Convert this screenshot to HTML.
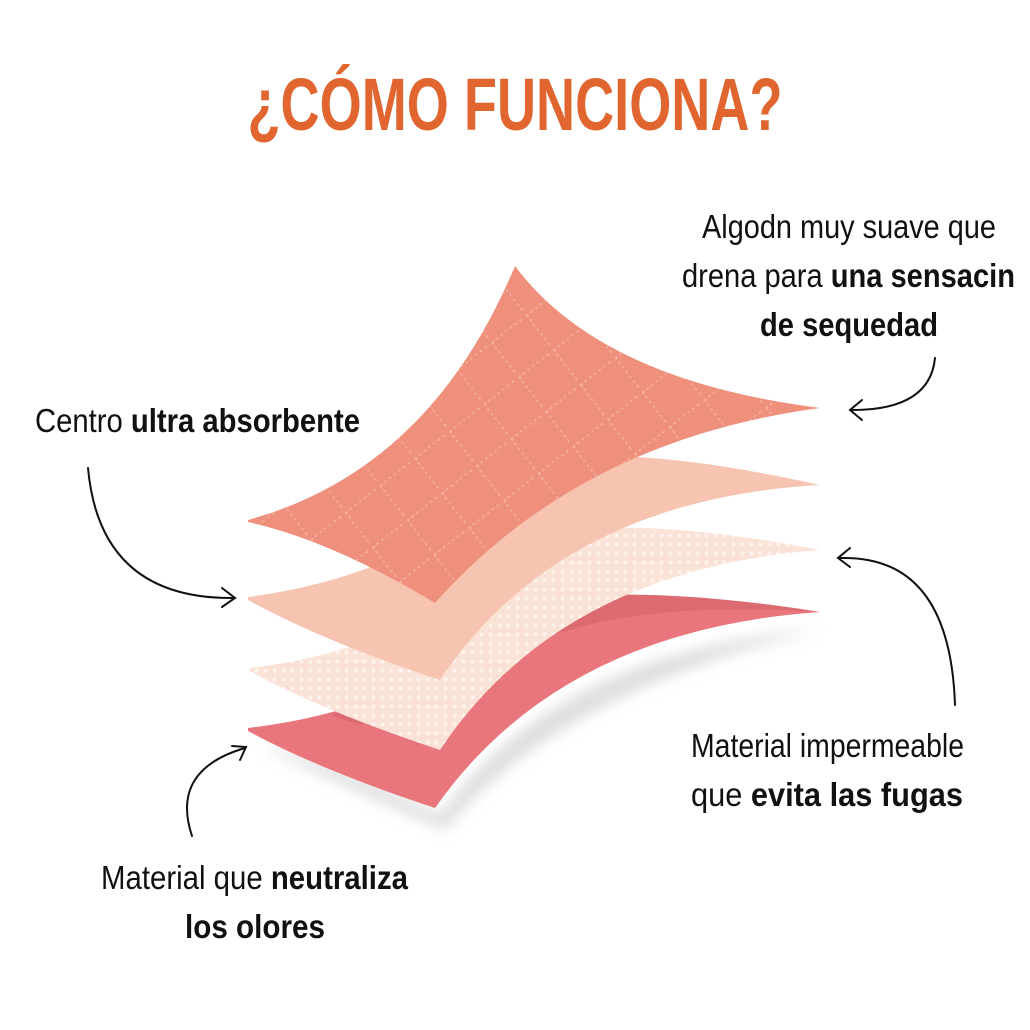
<!DOCTYPE html>
<html><head><meta charset="utf-8"><style>
html,body{margin:0;padding:0;background:#fff;}
svg{display:block}
text{font-family:"Liberation Sans Narrow","Liberation Sans",sans-serif;}
</style></head><body>
<svg width="1030" height="1030" viewBox="0 0 1030 1030" xmlns="http://www.w3.org/2000/svg">
<defs>
<pattern id="grid" width="44" height="44" patternUnits="userSpaceOnUse" patternTransform="rotate(-38)">
<g fill="#f6b8a8">
<circle cx="0" cy="0" r="3.2"/><circle cx="7" cy="0" r="1.8"/><circle cx="13" cy="0" r="1.6"/><circle cx="19" cy="0" r="1.5"/><circle cx="25" cy="0" r="1.5"/><circle cx="31" cy="0" r="1.6"/><circle cx="37" cy="0" r="1.8"/>
<circle cx="0" cy="7" r="1.8"/><circle cx="0" cy="13" r="1.6"/><circle cx="0" cy="19" r="1.5"/><circle cx="0" cy="25" r="1.5"/><circle cx="0" cy="31" r="1.6"/><circle cx="0" cy="37" r="1.8"/>
</g></pattern>
<pattern id="dots" width="9" height="9" patternUnits="userSpaceOnUse"><circle cx="4.5" cy="4.5" r="2" fill="#fff"/></pattern>
<filter id="sh" x="-20%" y="-20%" width="140%" height="140%"><feGaussianBlur stdDeviation="7"/></filter>
</defs>

<text x="515" y="130" text-anchor="middle" font-size="74" font-weight="bold" fill="#e0652f" textLength="535" lengthAdjust="spacingAndGlyphs">¿CÓMO FUNCIONA?</text>

<!-- shadow -->
<path d="M260 745 Q330 780 445 830 Q560 690 820 630 Q560 650 440 815 Q330 760 260 745Z" fill="#bbb" opacity="0.5" filter="url(#sh)"/>

<!-- layer 4 -->
<path d="M248 728 Q420 708 540 600 Q650 585 820 612 Q560 630 435 808 Q320 770 248 731Z" fill="#e8767c"/>
<path d="M330 715 Q450 690 540 600 Q650 585 820 612 Q640 600 540 640 Q440 690 360 725Z" fill="#d3636b" opacity="0.6"/>
<!-- layer 3 -->
<path d="M250 668 Q420 648 540 535 Q640 515 820 550 Q560 570 440 750 Q320 710 250 671Z" fill="#fbe2d6"/>
<path d="M250 668 Q420 648 540 535 Q640 515 820 550 Q560 570 440 750 Q320 710 250 671Z" fill="url(#dots)" opacity="0.6"/>
<!-- layer 2 -->
<path d="M248 597 Q420 575 540 460 Q640 445 820 485 Q560 500 440 680 Q320 640 248 600Z" fill="#f6c4b0"/>
<!-- layer 1 -->
<path d="M248 520 Q430 470 515 266 Q600 380 820 408 Q580 440 435 603 Q330 540 248 522Z" fill="#ee907c"/>
<path d="M248 520 Q430 470 515 266 Q600 380 820 408 Q580 440 435 603 Q330 540 248 522Z" fill="url(#grid)" opacity="0.8"/>

<!-- arrows -->
<g fill="none" stroke="#111" stroke-width="2" stroke-linecap="round">
<path d="M88 468 Q100 600 235 598"/><path d="M222 588 L235 598 L222 607"/>
<path d="M935 358 Q930 410 852 410"/><path d="M862 400 L850 410 L862 420"/>
<path d="M955 705 Q950 555 840 558"/><path d="M850 548 L838 558 L850 567"/>
<path d="M192 836 Q170 770 245 748"/><path d="M232 746 L246 747 L240 760"/>
</g>

<g font-size="33" fill="#111">
<text x="35" y="432" textLength="325" lengthAdjust="spacingAndGlyphs">Centro <tspan font-weight="bold">ultra absorbente</tspan></text>
<text x="702" y="238" textLength="294" lengthAdjust="spacingAndGlyphs">Algodn muy suave que</text>
<text x="682" y="287" textLength="333" lengthAdjust="spacingAndGlyphs">drena para <tspan font-weight="bold">una sensacin</tspan></text>
<text x="760" y="336" font-weight="bold" textLength="178" lengthAdjust="spacingAndGlyphs">de sequedad</text>
<text x="691" y="757" textLength="273" lengthAdjust="spacingAndGlyphs">Material impermeable</text>
<text x="691" y="806" textLength="272" lengthAdjust="spacingAndGlyphs">que  <tspan font-weight="bold">evita las fugas</tspan></text>
<text x="101" y="889" textLength="307" lengthAdjust="spacingAndGlyphs">Material que <tspan font-weight="bold">neutraliza</tspan></text>
<text x="185" y="938" font-weight="bold" textLength="140" lengthAdjust="spacingAndGlyphs">los olores</text>
</g>
</svg>
</body></html>
